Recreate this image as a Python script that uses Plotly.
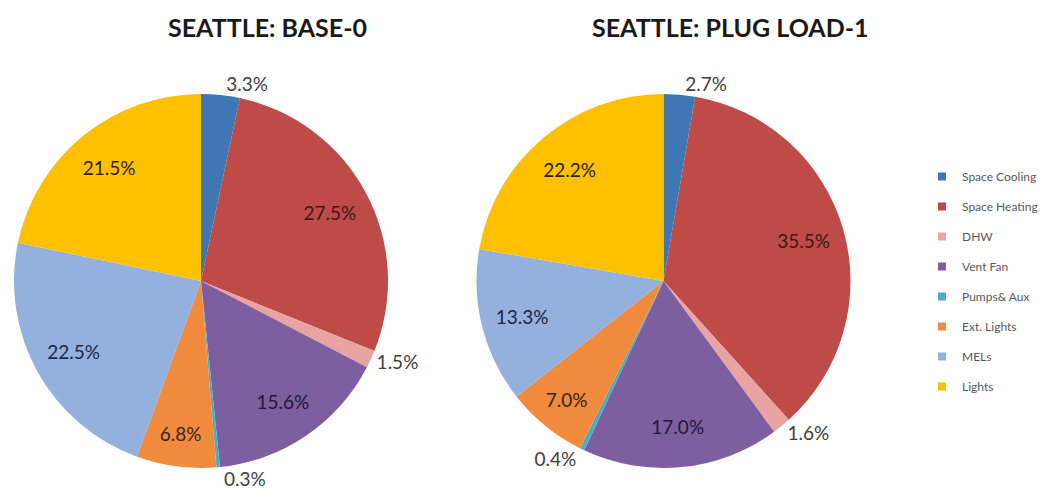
import plotly.graph_objects as go

categories = ["Space Cooling", "Space Heating", "DHW", "Vent Fan", "Pumps& Aux",
              "Ext. Lights", "MELs", "Lights"]
base_values = [3.3, 27.5, 1.5, 15.6, 0.3, 6.8, 22.5, 21.5]
plug_values = [2.7, 35.5, 1.6, 17.0, 0.4, 7.0, 13.3, 22.2]
titles = ["SEATTLE: BASE-0", "SEATTLE: PLUG LOAD-1"]

colors = ["#3F77B5", "#BE4B48", "#E9A3A3", "#7D5FA0", "#4BACC6",
          "#F08A3C", "#94B0DC", "#FFC000"]
label_colors = ["#1a2a40", "#3a1818", "#3a2a2a", "#221838", "#1a3040",
                "#3a2414", "#1a2846", "#2a2210"]

base_pos = ["outside", "inside", "outside", "inside", "outside", "inside", "inside", "inside"]
plug_pos = ["outside", "inside", "outside", "inside", "outside", "inside", "inside", "inside"]

FONT = "Lato"
W, H = 1050, 501
OFF = 8  # page body margin
YDOM = [1 - (468 - OFF) / H, 1 - (94 - OFF) / H]

fig = go.Figure()

def add_pie(values, pos, x0, x1):
    xdom = [(x0 - OFF) / W, (x1 - OFF) / W]
    fig.add_trace(go.Pie(
        labels=categories, values=values, sort=False, direction="clockwise",
        rotation=0,
        marker=dict(colors=colors, line=dict(width=0)),
        textinfo="none",
        domain=dict(x=xdom, y=YDOM),
        showlegend=False, hoverinfo="label+value",
    ))
    # transparent ring carrying the value labels (places them toward the rim)
    fig.add_trace(go.Pie(
        labels=categories, values=values, sort=False, direction="clockwise",
        rotation=0, hole=0.56,
        marker=dict(colors=["rgba(0,0,0,0)"] * len(values), line=dict(width=0)),
        texttemplate="%{value:.1f}%", textposition=pos,
        insidetextorientation="horizontal",
        insidetextfont=dict(family=FONT, size=19, color=label_colors),
        outsidetextfont=dict(family=FONT, size=19, color="#404040"),
        domain=dict(x=xdom, y=YDOM),
        showlegend=False, hoverinfo="skip",
    ))

add_pie(base_values, base_pos, 13, 389)
add_pie(plug_values, plug_pos, 475, 852)

# legend entries (one group per category for spacing)
for name, c in zip(categories, colors):
    fig.add_trace(go.Scatter(
        x=[None], y=[None], mode="markers", name=name,
        marker=dict(symbol="square", size=8, color=c),
        legendgroup=name, showlegend=True, hoverinfo="skip",
    ))

for t, xc in zip(titles, [267, 730]):
    fig.add_annotation(text="<b>" + t + "</b>", x=(xc - OFF) / W, y=1 - (27 - OFF) / H,
                       xref="paper", yref="paper", showarrow=False,
                       xanchor="center", yanchor="middle",
                       font=dict(family=FONT, size=25, color="#1a1a1a"))

fig.update_layout(
    width=W, height=H,
    margin=dict(l=0, r=0, t=0, b=0, autoexpand=False),
    paper_bgcolor="white", plot_bgcolor="white",
    xaxis=dict(visible=False), yaxis=dict(visible=False),
    legend=dict(x=(922 - OFF) / W, y=1 - (162 - OFF) / H, xanchor="left", yanchor="top",
                traceorder="grouped", tracegroupgap=11,
                font=dict(family=FONT, size=12, color="#595959"),
                itemclick=False, itemdoubleclick=False),
)

fig.write_html("out.html")
